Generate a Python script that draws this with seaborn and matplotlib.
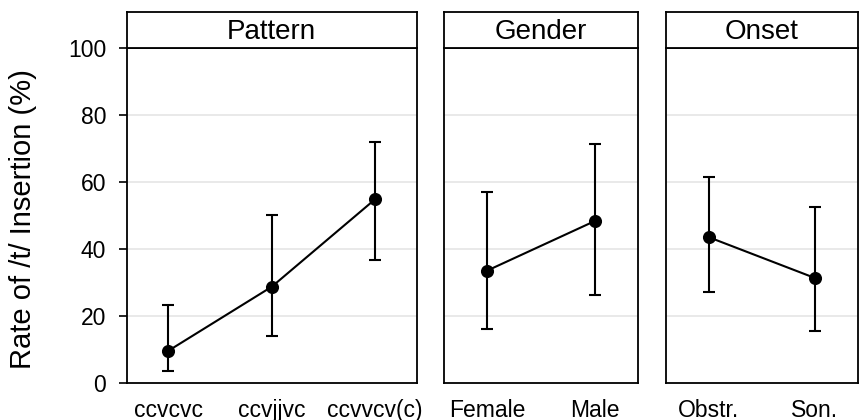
import matplotlib
matplotlib.use("Agg")
import matplotlib.pyplot as plt
import seaborn as sns
import numpy as np

# Estimated insertion rates (%) with confidence limits, per factor
pattern_levels = ["ccvcvc", "ccvjjvc", "ccvvcv(c)"]
pattern_rate = [9.7, 28.8, 54.9]
pattern_low = [3.7, 14.1, 36.8]
pattern_high = [23.3, 50.1, 71.9]

gender_levels = ["Female", "Male"]
gender_rate = [33.6, 48.4]
gender_low = [16.3, 26.3]
gender_high = [57.2, 71.3]

onset_levels = ["Obstr.", "Son."]
onset_rate = [43.6, 31.4]
onset_low = [27.3, 15.7]
onset_high = [61.5, 52.7]

facets = [
    ("Pattern", pattern_levels, pattern_rate, pattern_low, pattern_high),
    ("Gender", gender_levels, gender_rate, gender_low, gender_high),
    ("Onset", onset_levels, onset_rate, onset_low, onset_high),
]

y_ticks = [0, 20, 40, 60, 80, 100]

sns.set_theme(style="white")
plt.rcParams["font.family"] = ["Liberation Sans", "DejaVu Sans"]
plt.rcParams.update({
    "text.color": "black",
    "axes.labelcolor": "black",
    "xtick.color": "black",
    "ytick.color": "black",
})

W, H = 859, 420
fig = plt.figure(figsize=(W / 100, H / 100), dpi=100)

# panel extents in pixels: (left, right)
panel_x = [(127, 416.5), (444, 638), (666, 857.5)]
top_px, bottom_px, strip_top = 48, 383.3, 12

for i, ((title, levels, rate, low, high), (x0, x1)) in enumerate(zip(facets, panel_x)):
    ax = fig.add_axes([x0 / W, 1 - bottom_px / H, (x1 - x0) / W, (bottom_px - top_px) / H])
    for y in y_ticks[1:-1]:
        ax.axhline(y, color="#e3e3e3", lw=1.1, zorder=0)
    rate = np.asarray(rate)
    sns.pointplot(x=levels, y=rate, color="black", errorbar=None,
                  markersize=8.3, linewidth=1.5, ax=ax, zorder=3)
    ax.errorbar(np.arange(len(levels)), rate,
                yerr=[rate - np.asarray(low), np.asarray(high) - rate],
                fmt="none", ecolor="black", elinewidth=1.5, capsize=4,
                capthick=1.5, zorder=2)
    n = len(levels)
    ax.set_xlim(-0.4, n - 0.6)
    ax.set_ylim(0, 100)
    ax.set_yticks(y_ticks)
    ax.set_xlabel("")
    ax.tick_params(axis="x", length=0, labelsize=16.5, pad=11)
    if i == 0:
        ax.tick_params(axis="y", left=True, length=6, width=1.2, labelsize=16.5, pad=9)
        ax.set_ylabel("Rate of /t/ Insertion (%)", fontsize=21)
        ax.yaxis.set_label_coords(-0.31, 0.49)
    else:
        ax.tick_params(axis="y", left=False, labelleft=False)
        ax.set_ylabel("")
    for s in ax.spines.values():
        s.set_visible(True)
        s.set_color("black")
        s.set_linewidth(1.3)

    # facet strip
    sax = fig.add_axes([x0 / W, 1 - top_px / H, (x1 - x0) / W, (top_px - strip_top) / H])
    sax.set_xticks([])
    sax.set_yticks([])
    sax.set_facecolor("white")
    for s in sax.spines.values():
        s.set_visible(True)
        s.set_color("black")
        s.set_linewidth(1.3)
    sax.text(0.5, 0.45, title, ha="center", va="center", fontsize=20,
             transform=sax.transAxes)

fig.savefig("out.png", dpi=100)
